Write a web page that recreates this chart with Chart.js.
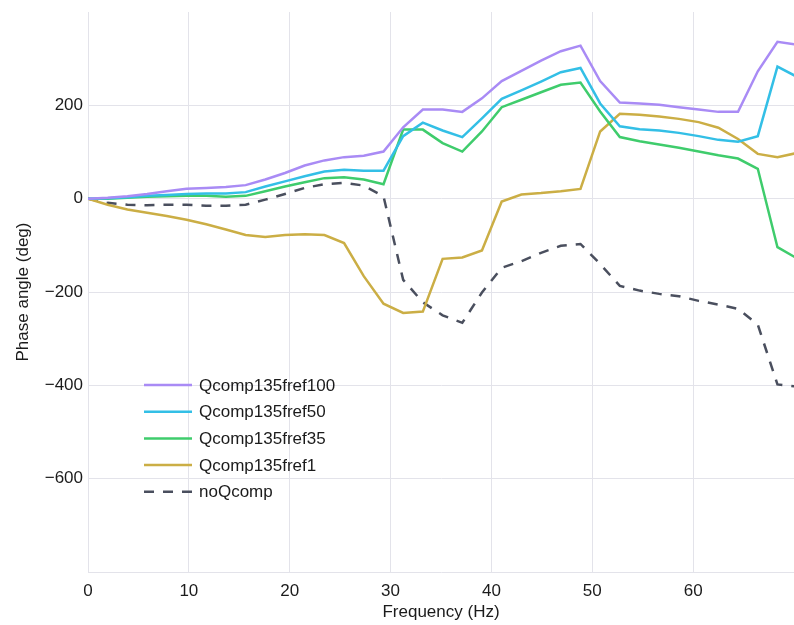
<!DOCTYPE html>
<html>
<head>
<meta charset="utf-8">
<script src="https://cdn.jsdelivr.net/npm/chart.js@4.4.1/dist/chart.umd.min.js"></script>
<style>
  html, body { margin: 0; padding: 0; background: #fff; overflow: hidden; }
  #wrap { width: 794px; height: 625px; position: relative; }
  canvas { display: block; }
</style>
</head>
<body>
<div id="wrap"><canvas id="phaseChart"></canvas></div>
<script>
// frequency bins (Hz)
const freqs = [0, 1.95, 3.91, 5.86, 7.81, 9.77, 11.72, 13.67, 15.63, 17.58, 19.53, 21.48,
  23.44, 25.39, 27.34, 29.3, 31.25, 33.2, 35.16, 37.11, 39.06, 41.02, 42.97, 44.92,
  46.88, 48.83, 50.78, 52.73, 54.69, 56.64, 58.59, 60.55, 62.5, 64.45, 66.41, 68.36, 70.31];

const labels = ["Qcomp135fref100", "Qcomp135fref50", "Qcomp135fref35", "Qcomp135fref1", "noQcomp"];

// phase angle (deg) per run
const fref100 = [0, 2, 5, 10, 16, 21, 23, 25, 29, 41, 55, 71, 82, 89, 92, 101, 153, 191, 191, 186,
  215, 252, 274, 296, 316, 328, 252, 206, 204, 201, 196, 191, 186, 186, 273, 336, 330];
const fref50 = [0, 1, 3, 6, 8, 10, 11, 11, 14, 26, 37, 48, 58, 62, 60, 60, 134, 163, 146, 132,
  172, 214, 232, 251, 271, 280, 204, 155, 149, 146, 141, 134, 126, 122, 134, 283, 261];
const fref35 = [0, 0, 2, 4, 5, 6, 6, 4, 6, 16, 26, 35, 44, 46, 41, 31, 148, 148, 119, 101,
  144, 196, 212, 228, 244, 249, 187, 132, 123, 116, 109, 101, 93, 86, 64, -104, -128];
const fref1 = [0, -13, -23, -30, -37, -45, -55, -66, -78, -82, -78, -76, -78, -95, -166, -225,
  -245, -242, -129, -126, -111, -6, 9, 12, 16, 21, 144, 182, 180, 176, 171, 164, 152, 128, 96, 89, 98];
const noQcomp = [0, -9, -13, -14, -13, -13, -15, -15, -13, -2, 10, 23, 31, 34, 28, 5, -174, -222,
  -250, -266, -201, -148, -134, -116, -101, -97, -140, -187, -197, -204, -209, -219, -227, -236,
  -270, -398, -403];

const series = [fref100, fref50, fref35, fref1, noQcomp];
const colors = ["#a98bf5", "#33bfe6", "#3fcc6c", "#cbae45", "#4a4f5e"];

const FONT = "'Liberation Sans', Arial, Helvetica, sans-serif";
const GRID = "#e3e3ea";

const datasets = series.map((vals, i) => ({
  label: labels[i],
  data: vals.map((v, j) => ({ x: freqs[j], y: v })),
  borderColor: colors[i],
  backgroundColor: colors[i],
  borderWidth: 2.5,
  borderDash: i === 4 ? [10, 9] : [],
  pointRadius: 0,
  pointHoverRadius: 0,
  tension: 0,
  fill: false
}));

// legend drawn inside the plot area, lower left
const insideLegend = {
  id: "insideLegend",
  afterDraw(chart) {
    const ctx = chart.ctx;
    const area = chart.chartArea;
    const x0 = area.left + 56;
    const y0 = area.top + 373;
    const rowH = 26.7;
    ctx.save();
    ctx.font = "17px " + FONT;
    ctx.textBaseline = "middle";
    chart.data.datasets.forEach((ds, i) => {
      const y = y0 + i * rowH;
      ctx.strokeStyle = ds.borderColor;
      ctx.lineWidth = ds.borderWidth;
      ctx.setLineDash(ds.borderDash);
      ctx.beginPath();
      ctx.moveTo(x0, y);
      ctx.lineTo(x0 + 48, y);
      ctx.stroke();
      ctx.setLineDash([]);
      ctx.fillStyle = "#1b1b1b";
      ctx.fillText(ds.label, x0 + 55, y + 1);
    });
    ctx.restore();
  }
};

new Chart(document.getElementById("phaseChart"), {
  type: "line",
  data: { datasets },
  options: {
    responsive: true,
    maintainAspectRatio: false,
    animation: false,
    layout: { autoPadding: false, padding: { top: 12, right: 0, bottom: 0, left: 0 } },
    plugins: {
      legend: { display: false },
      tooltip: { enabled: false }
    },
    scales: {
      x: {
        type: "linear",
        min: 0,
        max: 70,
        afterFit: (scale) => {
          scale.height = 53;
          scale.paddingLeft = 0;
          scale.paddingRight = 0;
        },
        grid: {
          color: (c) => (c.tick && c.tick.value === 70 ? "rgba(0,0,0,0)" : GRID),
          drawTicks: false
        },
        border: { color: GRID, width: 1 },
        ticks: {
          stepSize: 10,
          padding: 9,
          color: "#1b1b1b",
          font: { family: FONT, size: 17 },
          callback: (v) => (v === 70 ? "" : v)
        },
        title: {
          display: true,
          text: "Frequency (Hz)",
          color: "#1b1b1b",
          font: { family: FONT, size: 17 },
          padding: { top: 0, bottom: 2 }
        }
      },
      y: {
        min: -800,
        max: 400,
        afterFit: (scale) => {
          scale.width = 88;
          scale.paddingTop = 0;
          scale.paddingBottom = 0;
        },
        grid: {
          color: (c) => (c.tick && (c.tick.value === 400 || c.tick.value === -800) ? "rgba(0,0,0,0)" : GRID),
          drawTicks: false
        },
        border: { color: GRID, width: 1 },
        ticks: {
          stepSize: 200,
          padding: 5,
          color: "#1b1b1b",
          font: { family: FONT, size: 17 },
          callback: (v) => {
            if (v === 400 || v === -800) return "";
            return v < 0 ? "\u2212" + Math.abs(v) : String(v);
          }
        },
        title: {
          display: true,
          text: "Phase angle (deg)",
          color: "#1b1b1b",
          font: { family: FONT, size: 17 },
          padding: { top: 13, bottom: 0 }
        }
      }
    }
  },
  plugins: [insideLegend]
});
</script>
</body>
</html>
